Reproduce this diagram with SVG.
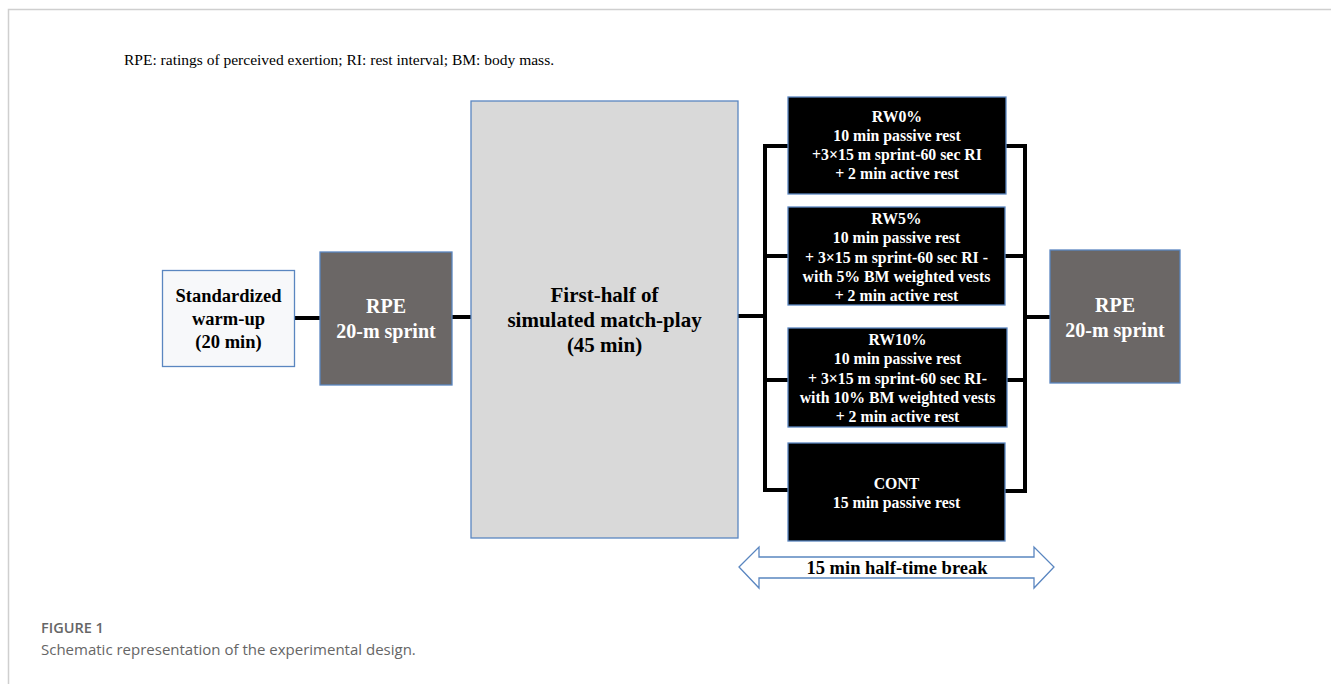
<svg xmlns="http://www.w3.org/2000/svg" width="1331" height="684" viewBox="0 0 1331 684">
<style>
.t{font-family:"Liberation Serif",serif;font-weight:bold;text-anchor:middle}
.w{fill:#fff}
.k{fill:#000}
.bx{stroke:#5a86c0;stroke-width:1.3}
.cn{stroke:#000;stroke-width:4;fill:none}
.cap{font-family:"Open Sans","Liberation Sans",sans-serif;fill:#666}
.rw{font-size:15.8px}
</style>
<rect width="1331" height="684" fill="#fff"/>
<path d="M8.5 684 V9.5 H1331" fill="none" stroke="#cfcfcf" stroke-width="1.5"/>
<text x="124" y="65" font-family="Liberation Serif,serif" font-size="15.5" fill="#000">RPE: ratings of perceived exertion; RI: rest interval; BM: body mass.</text>

<g id="connectors">
<path class="cn" d="M295 318 H320"/>
<path class="cn" d="M452 317 H471"/>
<path class="cn" d="M738 316 H765"/>
<path class="cn" d="M788 146 H765 V490 H788 M765 256 H788 M765 380 H788"/>
<path class="cn" d="M1006 146 H1025 V491 H1005 M1025 256 H1005 M1025 380 H1007"/>
<path class="cn" d="M1025 317 H1050"/>
</g>

<g id="warmup">
<rect class="bx" x="162.5" y="270.5" width="132" height="96" fill="#f7f8fa"/>
<text class="t k" font-size="18.5" x="228.5" y="302">Standardized</text>
<text class="t k" font-size="18.5" x="228.5" y="325">warm-up</text>
<text class="t k" font-size="18.5" x="228.5" y="348">(20 min)</text>
</g>

<g id="rpe1">
<rect class="bx" x="320" y="252" width="132" height="133" fill="#6b6766"/>
<text class="t w" font-size="20" x="386" y="313">RPE</text>
<text class="t w" font-size="20" x="386" y="338">20-m sprint</text>
</g>

<g id="firsthalf">
<rect class="bx" x="471" y="101" width="267" height="437" fill="#d9d9d9"/>
<text class="t k" font-size="21" x="604.5" y="302">First-half of</text>
<text class="t k" font-size="21" x="604.5" y="327">simulated match-play</text>
<text class="t k" font-size="21" x="604.5" y="352">(45 min)</text>
</g>

<g id="rw0">
<rect class="bx" x="788" y="97" width="218" height="97" fill="#000"/>
<text class="t w rw" x="897" y="122">RW0%</text>
<text class="t w rw" x="897" y="141">10 min passive rest</text>
<text class="t w rw" x="897" y="160">+3×15 m sprint-60 sec RI</text>
<text class="t w rw" x="897" y="179">+ 2 min active rest</text>
</g>

<g id="rw5">
<rect class="bx" x="788" y="207" width="217" height="98" fill="#000"/>
<text class="t w rw" x="896.5" y="224">RW5%</text>
<text class="t w rw" x="896.5" y="243">10 min passive rest</text>
<text class="t w rw" x="896.5" y="263">+ 3×15 m sprint-60 sec RI -</text>
<text class="t w rw" x="896.5" y="282">with 5% BM weighted vests</text>
<text class="t w rw" x="896.5" y="301">+ 2 min active rest</text>
</g>

<g id="rw10">
<rect class="bx" x="788" y="328" width="219" height="99" fill="#000"/>
<text class="t w rw" x="897.5" y="345">RW10%</text>
<text class="t w rw" x="897.5" y="364">10 min passive rest</text>
<text class="t w rw" x="897.5" y="384">+ 3×15 m sprint-60 sec RI-</text>
<text class="t w rw" x="897.5" y="403">with 10% BM weighted vests</text>
<text class="t w rw" x="897.5" y="422">+ 2 min active rest</text>
</g>

<g id="cont">
<rect class="bx" x="788" y="443" width="217" height="98" fill="#000"/>
<text class="t w rw" x="896.5" y="489">CONT</text>
<text class="t w rw" x="896.5" y="508">15 min passive rest</text>
</g>

<g id="rpe2">
<rect class="bx" x="1050" y="250" width="130" height="133" fill="#6b6766"/>
<text class="t w" font-size="20" x="1115" y="312">RPE</text>
<text class="t w" font-size="20" x="1115" y="337">20-m sprint</text>
</g>

<g id="halftime">
<path d="M739 567 L759 547 V557 H1034 V547 L1054 567 L1034 588 V578 H759 V588 Z" fill="#fff" stroke="#5a86c0" stroke-width="1.3"/>
<text class="t k" font-size="18.5" x="897" y="574">15 min half-time break</text>
</g>

<text class="cap" x="41" y="633" font-size="14.5" font-weight="600">FIGURE 1</text>
<text class="cap" x="41" y="655" font-size="15">Schematic representation of the experimental design.</text>
</svg>
